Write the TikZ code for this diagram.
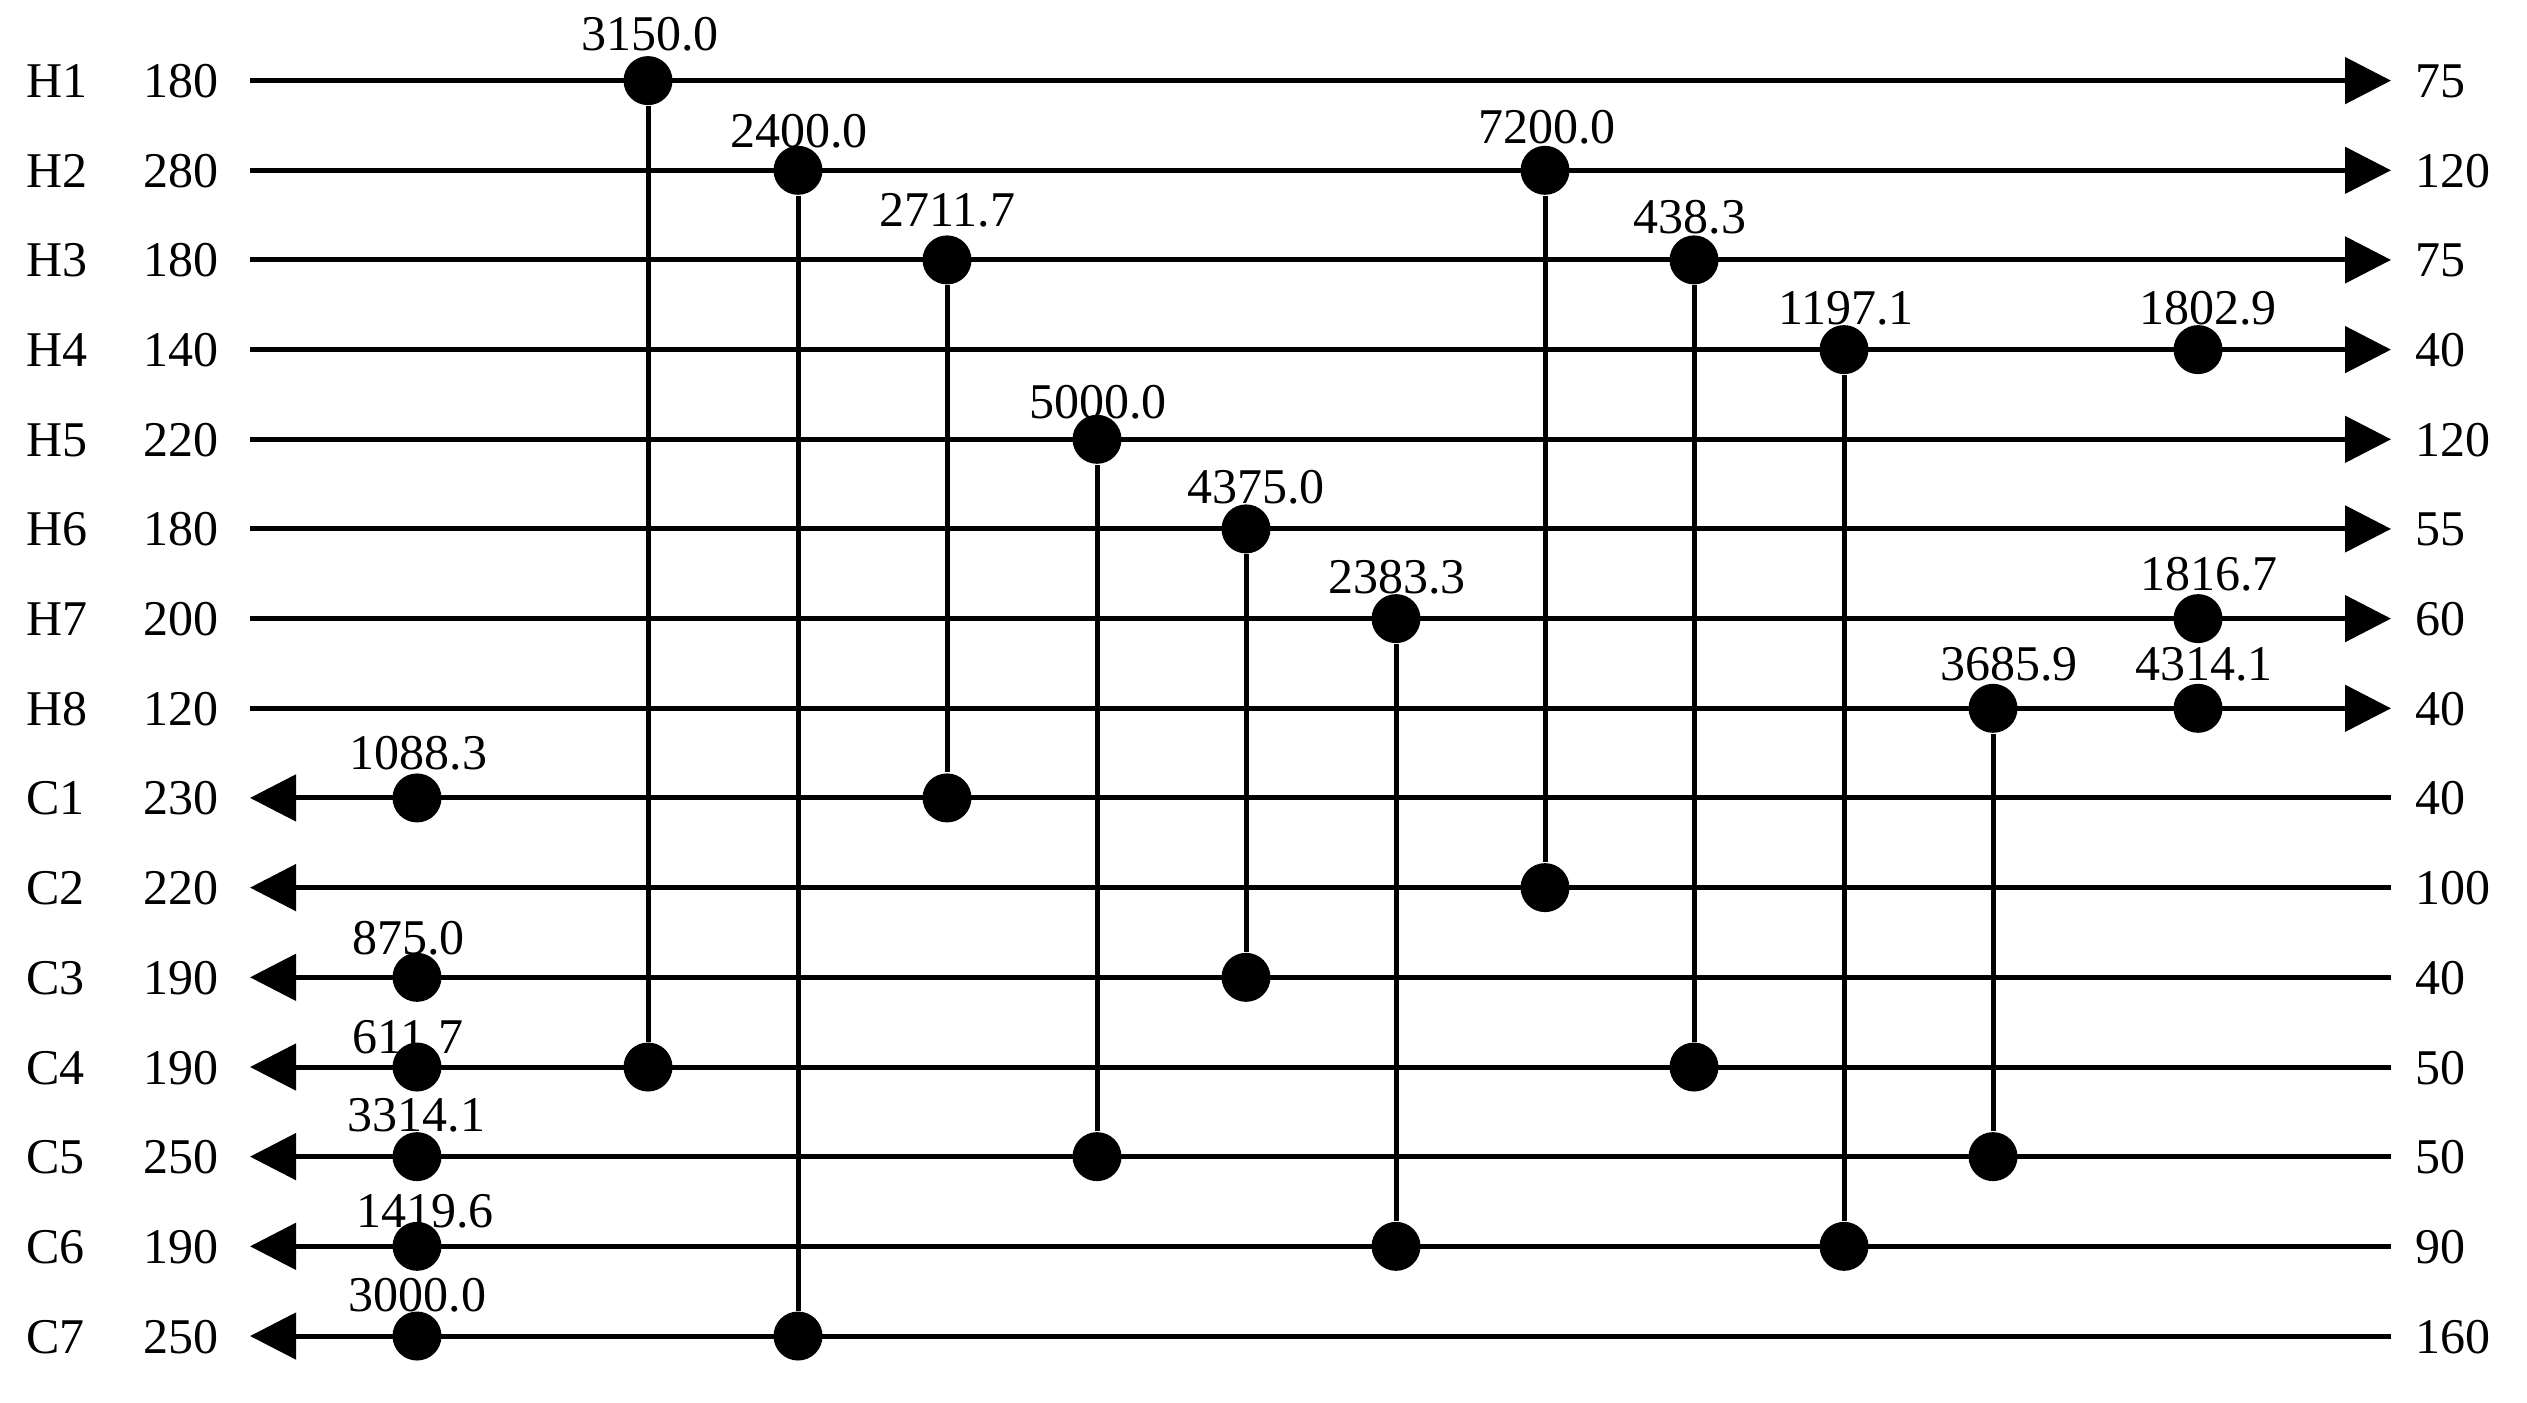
\documentclass[tikz,border=0pt]{standalone}
\usepackage{fontspec}
\setmainfont{Liberation Serif}
\usetikzlibrary{arrows.meta}
\tikzset{
  lbl/.style={inner sep=0pt, font=\fontsize{10pt}{12pt}\selectfont},
  val/.style={inner sep=0pt, anchor=base, font=\fontsize{10pt}{12pt}\selectfont},
  stream/.style={line width=1pt, -{Triangle[length=9.2pt,width=9.2pt]}},
  link/.style={line width=1pt},
  dot/.style={circle, fill=black, draw=none, minimum size=9.8pt, inner sep=0pt}
}
\begin{document}
\begin{tikzpicture}[x=0.2pt,y=-0.2pt]
\useasboundingbox (0,0) rectangle (2527,1402);
% streams
\foreach \n/\y/\a/\b in {H1/80.6/180/75, H2/170.3/280/120, H3/259.9/180/75, H4/349.6/140/40,
  H5/439.3/220/120, H6/528.9/180/55, H7/618.6/200/60, H8/708.3/120/40,
  C1/797.9/230/40, C2/887.6/220/100, C3/977.3/190/40, C4/1067.0/190/50,
  C5/1156.6/250/50, C6/1246.3/190/90, C7/1336.0/250/160}{
  \node[lbl, anchor=base west] (n\n) at (25,\y+17) {\n};
  \node[lbl, anchor=base east] (ti\n) at (219,\y+17) {\a};
  \node[lbl, anchor=base west] (to\n) at (2414,\y+17) {\b};
  \coordinate (\n L) at (250,\y);
  \coordinate (\n R) at (2391,\y);
}
\foreach \n in {H1,H2,H3,H4,H5,H6,H7,H8}{\draw[stream] (\n L) -- (\n R);}
\foreach \n in {C1,C2,C3,C4,C5,C6,C7}{\draw[stream] (\n R) -- (\n L);}
% exchangers
\foreach \i/\x/\yh/\yc/\v/\lx/\ly in {
  1/648/80.6/1067.0/3150.0/650/50,
  2/798/170.3/1336.0/2400.0/799/147,
  3/947/259.9/797.9/2711.7/947.5/226,
  4/1097/439.3/1156.6/5000.0/1098/418,
  5/1246/528.9/977.3/4375.0/1256/503,
  6/1396/618.6/1246.3/2383.3/1397/593,
  7/1545/170.3/887.6/7200.0/1547/143,
  8/1694/259.9/1067.0/438.3/1690/233,
  9/1844/349.6/1246.3/1197.1/1846/324,
  10/1993/708.3/1156.6/3685.9/2009/680}{
  \node[dot] (eh\i) at (\x,\yh) {};
  \node[dot] (ec\i) at (\x,\yc) {};
  \draw[link] (eh\i) -- (ec\i);
  \node[val] (ev\i) at (\lx,\ly) {\v};
}
% coolers
\foreach \i/\y/\v/\lx/\ly in {1/349.6/1802.9/2208/324, 2/618.6/1816.7/2209/590, 3/708.3/4314.1/2204/680}{
  \node[dot] (cu\i) at (2198,\y) {};
  \node[val] (cv\i) at (\lx,\ly) {\v};
}
% heaters
\foreach \i/\y/\v/\lx/\ly in {1/797.9/1088.3/418.5/769, 3/977.3/875.0/408.5/954, 4/1067.0/611.7/408/1053,
  5/1156.6/3314.1/416.5/1131, 6/1246.3/1419.6/425/1227, 7/1336.0/3000.0/417.5/1311}{
  \node[dot] (hu\i) at (417,\y) {};
  \node[val] (hv\i) at (\lx,\ly) {\v};
}
\end{tikzpicture}
\end{document}
